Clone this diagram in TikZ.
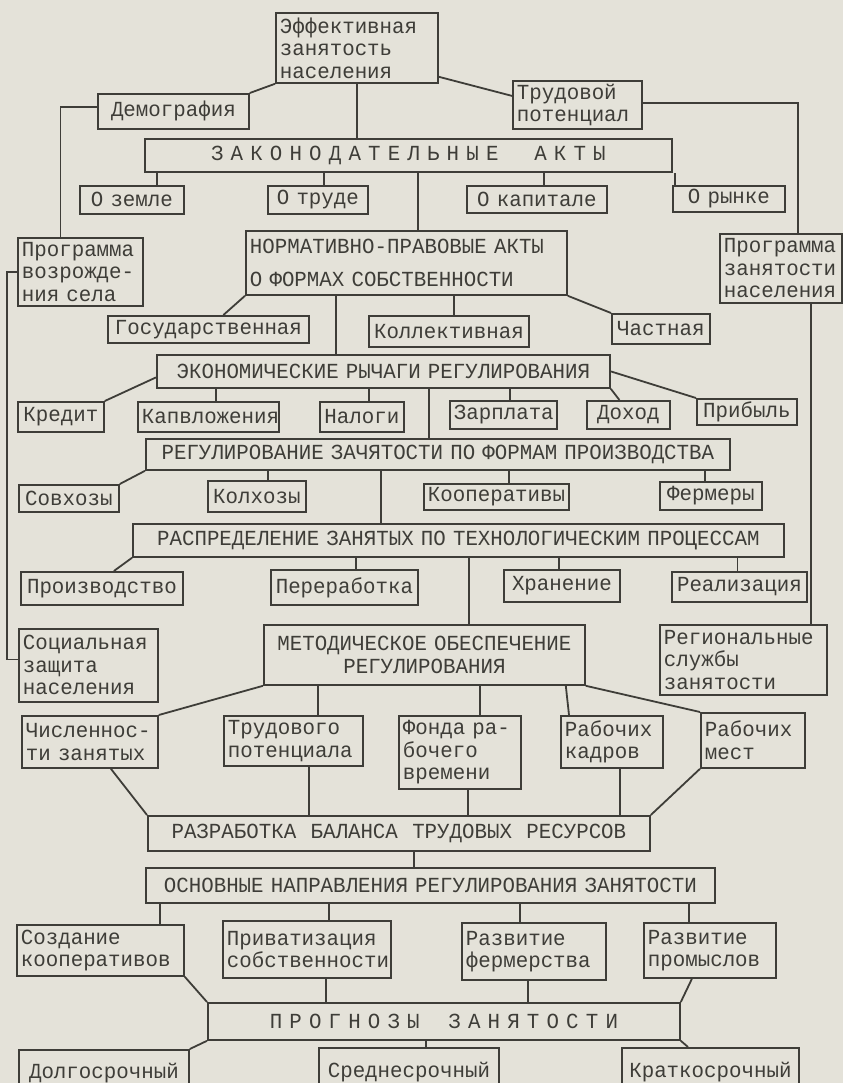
\documentclass[tikz,border=0pt]{standalone}
\usepackage{fontspec}
\newfontfamily\tw{Liberation Mono}[FakeStretch=0.967]
\usetikzlibrary{calc}
\definecolor{paper}{HTML}{E4E2D9}
\definecolor{ink}{HTML}{3E3D38}
% #1 align, #2 name, #3 x1, #4 y1, #5 x2, #6 y2, #7 text
\newcommand{\mybox}[7]{%
  \pgfmathsetmacro{\bw}{#5-#3-8}%
  \pgfmathsetmacro{\bh}{#6-#4}%
  \node[bx, align=#1, text width=\bw pt, minimum height=\bh pt] (#2) at (#3,#4) {#7};}
% child below parent: vertical from child.north (shifted) up to parent.south
\newcommand{\vup}[3]{%
  \coordinate (tmpc) at ([xshift=#2pt]#1.north);
  \draw[ln] (tmpc) -- (tmpc |- #3.south);}
% child above parent: vertical from child.south (shifted) down to parent.north
\newcommand{\vdn}[3]{%
  \coordinate (tmpc) at ([xshift=#2pt]#1.south);
  \draw[ln] (tmpc) -- (tmpc |- #3.north);}
\begin{document}
\begin{tikzpicture}[x=1pt,y=-1pt,
  bx/.style={draw=ink,line width=1.8pt,inner xsep=4pt,inner ysep=0pt,anchor=north west,
    font=\tw\fontsize{21.5}{22.5}\selectfont,text=ink},
  ln/.style={draw=ink,line width=1.8pt}]
\fill[paper] (0,0) rectangle (843,1083);
\useasboundingbox (0,0) rectangle (843,1083);

\mybox{left}{tit}{275}{12}{437}{82}{Эффективная\\занятость\\населения}
\mybox{center}{dem}{97}{93}{248}{128}{Демография}
\mybox{left}{trp}{512}{80}{641}{128}{Трудовой\\потенциал}
\mybox{center}{zak}{144}{138}{671}{171}{З~А~К~О~Н~О~Д~А~Т~Е~Л~Ь~Н~Ы~Е~~~~~А~К~Т~Ы}
\mybox{center}{zem}{79}{185}{183}{213}{О земле}
\mybox{center}{tru}{267}{185}{367}{213}{О труде}
\mybox{center}{kap}{466}{185}{606}{212}{О капитале}
\mybox{center}{ryn}{672}{185}{784}{211}{О рынке}
\mybox{left}{prv}{17}{237}{142}{305}{Программа\\возрожде-\\ния села}
\mybox{left}{prz}{719}{233}{841}{302}{Программа\\занятости\\населения}
\mybox{left}{nor}{245}{230}{566}{294}{НОРМАТИВНО-ПРАВОВЫЕ АКТЫ\\[10pt]О ФОРМАХ СОБСТВЕННОСТИ}
\mybox{center}{gos}{107}{315}{308}{342}{Государственная}
\mybox{center}{kol}{368}{315}{528}{346}{Коллективная}
\mybox{center}{cha}{611}{313}{709}{343}{Частная}
\mybox{center}{eko}{156}{354}{609}{387}{ЭКОНОМИЧЕСКИЕ РЫЧАГИ РЕГУЛИРОВАНИЯ}
\mybox{center}{kre}{17}{401}{103}{431}{Кредит}
\mybox{center}{kpv}{137}{401}{278}{431}{Капвложения}
\mybox{center}{nal}{319}{401}{403}{431}{Налоги}
\mybox{center}{zar}{449}{400}{556}{428}{Зарплата}
\mybox{center}{dox}{586}{400}{669}{428}{Доход}
\mybox{center}{pri}{696}{398}{796}{424}{Прибыль}
\mybox{center}{reg}{145}{438}{729}{469}{РЕГУЛИРОВАНИЕ ЗАЧЯТОСТИ ПО ФОРМАМ ПРОИЗВОДСТВА}
\mybox{center}{sov}{18}{484}{118}{511}{Совхозы}
\mybox{center}{klx}{207}{480}{305}{511}{Колхозы}
\mybox{center}{koo}{423}{483}{568}{509}{Кооперативы}
\mybox{center}{fer}{659}{481}{761}{509}{Фермеры}
\mybox{center}{ras}{132}{523}{783}{556}{РАСПРЕДЕЛЕНИЕ ЗАНЯТЫХ ПО ТЕХНОЛОГИЧЕСКИМ ПРОЦЕССАМ}
\mybox{center}{pro}{20}{571}{182}{604}{Производство}
\mybox{center}{per}{270}{569}{417}{604}{Переработка}
\mybox{center}{xra}{503}{569}{619}{601}{Хранение}
\mybox{center}{rea}{671}{571}{806}{601}{Реализация}
\mybox{center}{met}{263}{624}{584}{684}{МЕТОДИЧЕСКОЕ ОБЕСПЕЧЕНИЕ\\РЕГУЛИРОВАНИЯ}
\mybox{left}{soc}{18}{628}{157}{701}{Социальная\\защита\\населения}
\mybox{left}{rgs}{659}{624}{826}{694}{Региональные\\службы\\занятости}
\mybox{left}{chi}{21}{715}{157}{767}{Численнос-\\ти занятых}
\mybox{left}{trd}{223}{715}{362}{765}{Трудового\\потенциала}
\mybox{left}{fon}{398}{715}{520}{788}{Фонда ра-\\бочего\\времени}
\mybox{left}{rka}{560}{715}{662}{767}{Рабочих\\кадров}
\mybox{left}{rme}{700}{712}{804}{767}{Рабочих\\мест}
\mybox{center}{raz}{147}{815}{649}{850}{РАЗРАБОТКА~~БАЛАНСА~~ТРУДОВЫХ~~РЕСУРСОВ}
\mybox{center}{osn}{145}{867}{714}{902}{ОСНОВНЫЕ НАПРАВЛЕНИЯ РЕГУЛИРОВАНИЯ ЗАНЯТОСТИ}
\mybox{left}{soz}{16}{924}{183}{975}{Создание\\кооперативов}
\mybox{left}{pvt}{222}{920}{390}{977}{Приватизация\\собственности}
\mybox{left}{rfe}{461}{922}{605}{979}{Развитие\\фермерства}
\mybox{left}{rpm}{643}{922}{775}{977}{Развитие\\промыслов}
\mybox{center}{prg}{207}{1002}{679}{1039}{П~Р~О~Г~Н~О~З~Ы~~~~З~А~Н~Я~Т~О~С~Т~И}
\mybox{center}{dol}{18}{1049}{188}{1095}{Долгосрочный}
\mybox{center}{sre}{318}{1047}{498}{1095}{Среднесрочный}
\mybox{center}{kra}{621}{1047}{798}{1095}{Краткосрочный}

% top connectors
\draw[ln] (tit.south west) -- (dem.north east);
\draw[ln] ([yshift=7pt]tit.south east) -- ([yshift=9pt]trp.west);
\draw[ln] (tit.south) -- (tit.south |- zak.north);
\draw[ln] ([yshift=4pt]dem.west) -| ([xshift=-20pt]prv.north);
\draw[ln] ([yshift=2pt]trp.east) -| ([xshift=17pt]prz.north);
\coordinate (L) at (7,0);
\draw[ln] (prv.west) -- (prv.west -| L) |- ([yshift=6pt]soc.west);
\vup{rgs}{67.5}{prz}

\vup{zem}{25}{zak}
\vup{tru}{6}{zak}
\vup{nor}{11.5}{zak}
\vup{kap}{7}{zak}
\vup{ryn}{-54}{zak}

\draw[ln] (nor.south west) -- ([xshift=15pt]gos.north);
\draw[ln] (nor.south east) -- (cha.north west);
\vup{eko}{-47.5}{nor}
\vup{kol}{5}{nor}

\draw[ln] ([yshift=-6pt]eko.west) -- (kre.north east);
\vup{kpv}{7.5}{eko}
\vup{nal}{7}{eko}
\vup{reg}{-9}{eko}
\vup{zar}{6.5}{eko}
\draw[ln] (eko.south east) -- ([xshift=-9pt]dox.north);
\draw[ln] (eko.east) -- (pri.north west);

\draw[ln] (reg.south west) -- (sov.north east);
\vup{klx}{11}{reg}
\vup{ras}{-77.5}{reg}
\vup{koo}{12.5}{reg}
\vup{fer}{-6}{reg}

\draw[ln] (ras.south west) -- ([xshift=12pt]pro.north);
\vup{per}{11.5}{ras}
\vup{met}{44.5}{ras}
\vup{xra}{-3}{ras}
\vup{rea}{-2}{ras}

\draw[ln] (met.south west) -- (chi.north east);
\vup{trd}{24.5}{met}
\vup{fon}{20}{met}
\draw[ln] ([xshift=-20pt]met.south east) -- ([xshift=9pt]rka.north west);
\draw[ln] (met.south east) -- (rme.north west);

\draw[ln] ([xshift=21pt]chi.south) -- (raz.north west);
\vdn{trd}{15.5}{raz}
\vdn{fon}{8}{raz}
\vdn{rka}{8}{raz}
\draw[ln] (rme.south west) -- (raz.north east);

\vup{osn}{-16.5}{raz}
\vup{soz}{59.5}{osn}
\vup{pvt}{22}{osn}
\vup{rfe}{-14}{osn}
\vup{rpm}{-21}{osn}

\draw[ln] (soz.south east) -- (prg.north west);
\vdn{pvt}{19}{prg}
\vdn{rfe}{-6}{prg}
\draw[ln] ([xshift=-18pt]rpm.south) -- (prg.north east);

\draw[ln] (prg.south west) -- (dol.north east);
\vup{sre}{17}{prg}
\draw[ln] (prg.south east) -- ([xshift=67pt]kra.north west);
\end{tikzpicture}
\end{document}
